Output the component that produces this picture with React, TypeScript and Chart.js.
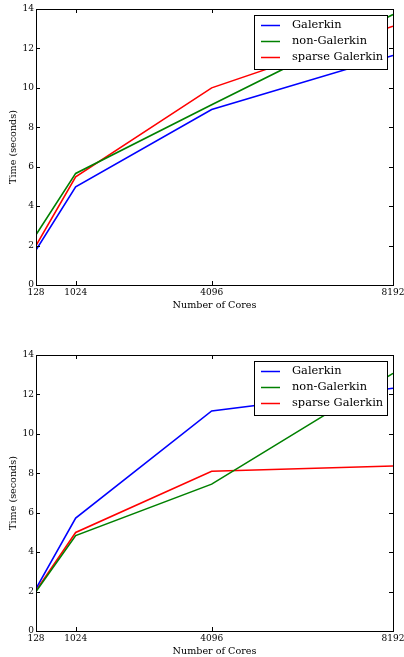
import React, { useEffect, useRef } from "react";
import { Chart, registerables } from "chart.js";

Chart.register(...registerables);

const cores = [128, 1024, 4096, 8192];
const xTickValues = [128, 1024, 4096, 8192];
const seriesLabels = ["Galerkin", "non-Galerkin", "sparse Galerkin"];
const seriesColors = ["#0000ff", "#008000", "#ff0000"];

const topGalerkin = [1.77, 4.98, 8.9, 11.64];
const topNonGalerkin = [2.55, 5.66, 9.14, 13.72];
const topSparse = [2.0, 5.49, 10.0, 13.13];

const bottomGalerkin = [2.15, 5.73, 11.16, 12.31];
const bottomNonGalerkin = [2.0, 4.84, 7.45, 13.07];
const bottomSparse = [2.05, 5.0, 8.1, 8.37];

const xTitle = "Number of Cores";
const yTitle = "Time (seconds)";

const FONT = "'DejaVu Serif', serif";

const framePlugin = {
  id: "frameAndTicks",
  afterDatasetsDraw(chart: any) {
    const { ctx, chartArea: a, scales } = chart;
    const tl = 4;
    ctx.save();
    ctx.strokeStyle = "#000";
    ctx.lineWidth = 1;
    ctx.beginPath();
    for (const t of scales.x.ticks) {
      const px = Math.round(scales.x.getPixelForValue(t.value)) + 0.5;
      ctx.moveTo(px, a.bottom);
      ctx.lineTo(px, a.bottom - tl);
      ctx.moveTo(px, a.top);
      ctx.lineTo(px, a.top + tl);
    }
    for (const t of scales.y.ticks) {
      const py = Math.round(scales.y.getPixelForValue(t.value)) + 0.5;
      ctx.moveTo(a.left, py);
      ctx.lineTo(a.left + tl, py);
      ctx.moveTo(a.right, py);
      ctx.lineTo(a.right - tl, py);
    }
    ctx.stroke();
    ctx.strokeRect(
      Math.round(a.left) + 0.5,
      Math.round(a.top) + 0.5,
      Math.round(a.right - a.left),
      Math.round(a.bottom - a.top)
    );
    ctx.restore();
  },
  afterDraw(chart: any) {
    const { ctx, chartArea: a } = chart;
    const ds = chart.data.datasets;
    ctx.save();
    ctx.font = `11.4px ${FONT}`;
    let maxW = 0;
    for (const d of ds) maxW = Math.max(maxW, ctx.measureText(d.label).width);
    const padL = 7, lineLen = 19, gap = 12, padR = 4;
    const w = padL + lineLen + gap + maxW + padR;
    const rowH = 16;
    const h = 54;
    const right = Math.round(a.right) - 6;
    const left = Math.round(right - w);
    const top = Math.round(a.top) + 6;
    ctx.fillStyle = "#fff";
    ctx.fillRect(left, top, right - left, h);
    ctx.strokeStyle = "#000";
    ctx.lineWidth = 1;
    ctx.strokeRect(left + 0.5, top + 0.5, right - left, h);
    ds.forEach((d: any, i: number) => {
      const cy = top + 10.5 + i * rowH;
      ctx.strokeStyle = d.borderColor;
      ctx.lineWidth = 1.5;
      ctx.beginPath();
      ctx.moveTo(left + padL, cy);
      ctx.lineTo(left + padL + lineLen, cy);
      ctx.stroke();
      ctx.fillStyle = "#000";
      ctx.textBaseline = "middle";
      ctx.textAlign = "left";
      ctx.fillText(d.label, left + padL + lineLen + gap, cy);
    });
    ctx.restore();
  },
};

function makeConfig(series: number[][]) {
  return {
    type: "line" as const,
    data: {
      datasets: series.map((vals, i) => ({
        label: seriesLabels[i],
        data: cores.map((c, j) => ({ x: c, y: vals[j] })),
        borderColor: seriesColors[i],
        backgroundColor: seriesColors[i],
        borderWidth: 1.6,
        pointRadius: 0,
        tension: 0,
        fill: false,
      })),
    },
    options: {
      animation: false,
      responsive: false,
      events: [],
      layout: { padding: { top: 9, right: 11, left: 0, bottom: 0 } },
      plugins: { legend: { display: false }, tooltip: { enabled: false } },
      scales: {
        x: {
          type: "linear",
          min: 128,
          max: 8192,
          afterBuildTicks: (scale: any) => {
            scale.ticks = xTickValues.map((v) => ({ value: v }));
          },
          afterFit: (scale: any) => {
            scale.height = 26;
            scale.paddingLeft = 0;
            scale.paddingRight = 0;
          },
          grid: { display: false, drawTicks: false },
          border: { display: false },
          ticks: {
            padding: 2,
            color: "#000",
            maxRotation: 0,
            autoSkip: false,
            font: { family: FONT, size: 9 },
            callback: (v: any) => String(v),
          },
          title: {
            display: true,
            text: xTitle,
            color: "#000",
            font: { family: FONT, size: 9.6 },
            padding: { top: 0, bottom: 0 },
          },
        },
        y: {
          type: "linear",
          min: 0,
          max: 14,
          afterFit: (scale: any) => {
            scale.width = 36;
          },
          grid: { display: false, drawTicks: false },
          border: { display: false },
          ticks: {
            stepSize: 2,
            padding: 2,
            color: "#000",
            font: { family: FONT, size: 9 },
          },
          title: {
            display: true,
            text: yTitle,
            color: "#000",
            font: { family: FONT, size: 9.6 },
            padding: { top: 8, bottom: 0 },
          },
        },
      },
    },
    plugins: [framePlugin],
  };
}

function LineChart({ series, top }: { series: number[][]; top: number }) {
  const ref = useRef<HTMLCanvasElement | null>(null);
  useEffect(() => {
    if (!ref.current) return;
    const chart = new Chart(ref.current, makeConfig(series) as any);
    return () => chart.destroy();
  }, [series]);
  return (
    <canvas
      ref={ref}
      width={404}
      height={311}
      style={{ position: "absolute", left: 0, top, width: 404, height: 311 }}
    />
  );
}

const topSeries = [topGalerkin, topNonGalerkin, topSparse];
const bottomSeries = [bottomGalerkin, bottomNonGalerkin, bottomSparse];

export default function App() {
  return (
    <div
      style={{
        position: "fixed",
        left: 0,
        top: 0,
        width: 404,
        height: 657,
        overflow: "hidden",
        background: "#fff",
      }}
    >
      <LineChart series={topSeries} top={0} />
      <LineChart series={bottomSeries} top={346} />
    </div>
  );
}
